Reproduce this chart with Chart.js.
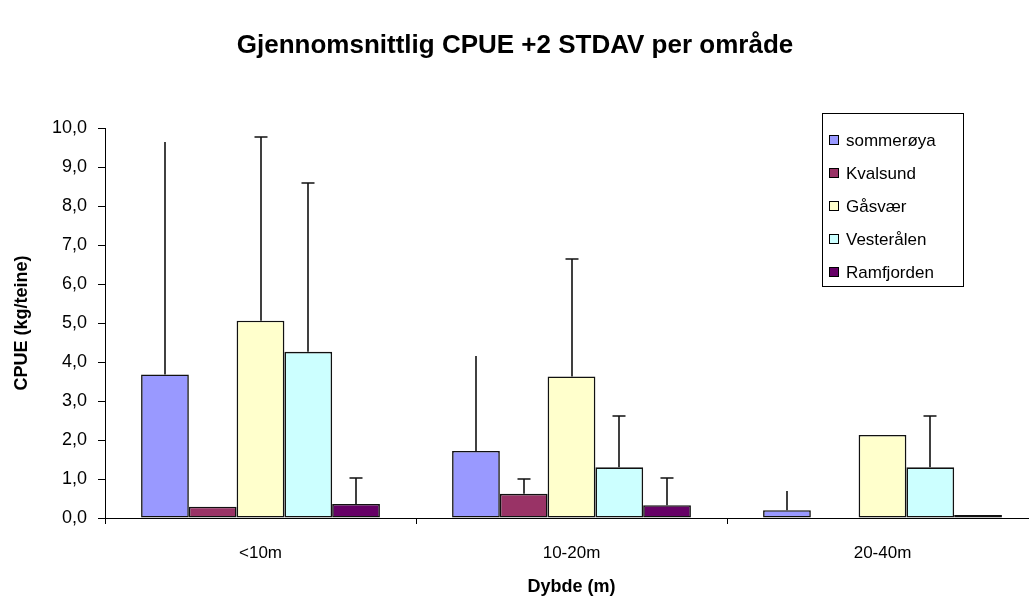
<!DOCTYPE html>
<html>
<head>
<meta charset="utf-8">
<script src="https://cdn.jsdelivr.net/npm/chart.js@4.4.1/dist/chart.umd.min.js"></script>
<style>
html,body{margin:0;padding:0;background:#fff;overflow:hidden}
#wrap{width:1029px;height:601px;overflow:hidden;position:relative}
#wrap canvas{display:block}
</style>
</head>
<body>
<div id="wrap"><canvas id="ch1" width="1045" height="601" style="width:1045px;height:601px"></canvas></div>
<script>
const FONT = "'Liberation Sans', Arial, sans-serif";
const TITLE = 'Gjennomsnittlig CPUE +2 STDAV per område';
const categories = ['<10m', '10-20m', '20-40m'];
const yTicks = [0,1,2,3,4,5,6,7,8,9,10];

// middelverdier (kg/teine)
const sommeroya  = [3.68, 1.72, 0.20];
const kvalsund   = [0.29, 0.62, 0];
const gasvaer    = [5.06, 3.63, 2.13];
const vesteralen = [4.26, 1.30, 1.30];
const ramfjorden = [0.36, 0.33, 0.08];

// +2 STDAV (lengde på feilstrek)
const errSommeroya  = [5.96, 2.43, 0.49];
const errKvalsund   = [0, 0.37, 0];
const errGasvaer    = [4.72, 3.01, 0];
const errVesteralen = [4.32, 1.31, 1.31];
const errRamfjorden = [0.66, 0.70, 0];

const COLORS = {s:'#9999FF', k:'#993366', g:'#FFFFCC', v:'#CCFFFF', r:'#660066'};

const bar = (label, data, err, color, caps) => ({
  label, data, err, caps,
  backgroundColor: color,
  borderColor: '#111',
  borderWidth: 1.6,
  borderSkipped: false,
  categoryPercentage: 0.768,
  barPercentage: 1
});

const ds = [
  bar('sommerøya', sommeroya, errSommeroya, COLORS.s, false),
  bar('Kvalsund', kvalsund, errKvalsund, COLORS.k, true),
  bar('Gåsvær', gasvaer, errGasvaer, COLORS.g, true),
  bar('Vesterålen', vesteralen, errVesteralen, COLORS.v, true),
  bar('Ramfjorden', ramfjorden, errRamfjorden, COLORS.r, true),
];

// feilstreker (kun opp)
const errorBars = {
  id: 'errorBars',
  afterDatasetsDraw(c){
    const ctx = c.ctx, y = c.scales.y;
    ctx.save();
    ctx.strokeStyle = '#111';
    ctx.lineWidth = 1.6;
    c.data.datasets.forEach((d, i) => {
      c.getDatasetMeta(i).data.forEach((el, j) => {
        const e = d.err[j];
        if(!e) return;
        const top = Math.round(y.getPixelForValue(d.data[j] + e));
        const x = Math.round(el.x);
        ctx.beginPath();
        ctx.moveTo(x, el.y);
        ctx.lineTo(x, top);
        if(d.caps){ ctx.moveTo(x - 6.5, top); ctx.lineTo(x + 6.5, top); }
        ctx.stroke();
      });
    });
    ctx.restore();
  }
};

// tittel + legende i Excel-stil
const decor = {
  id: 'decor',
  afterDraw(c){
    const ctx = c.ctx;
    ctx.save();
    ctx.fillStyle = '#000';
    ctx.font = 'bold 26px ' + FONT;
    ctx.textAlign = 'center';
    ctx.textBaseline = 'middle';
    ctx.fillText(TITLE, 515, 46);

    const lx = 822, ly = 113, lw = 141, lh = 173;
    ctx.fillStyle = '#fff';
    ctx.fillRect(lx, ly, lw, lh);
    ctx.strokeStyle = '#000';
    ctx.lineWidth = 1;
    ctx.strokeRect(lx + 0.5, ly + 0.5, lw, lh);
    ctx.font = '17px ' + FONT;
    ctx.textAlign = 'left';
    c.data.datasets.forEach((d, i) => {
      const cy = 140 + i * 33;
      ctx.fillStyle = d.backgroundColor;
      ctx.fillRect(829, cy - 5, 10, 10);
      ctx.strokeRect(829.5, cy - 4.5, 9, 9);
      ctx.fillStyle = '#000';
      ctx.fillText(d.label, 846, cy + 1);
    });
    ctx.restore();
  }
};

new Chart(document.getElementById('ch1'), {
  type: 'bar',
  data: {labels: categories, datasets: ds},
  options: {
    responsive: false,
    animation: false,
    devicePixelRatio: 1,
    layout: {padding: {top: 128, right: 7, left: 0, bottom: 0}},
    plugins: {legend: {display: false}, tooltip: {enabled: false}, title: {display: false}},
    scales: {
      x: {
        grid: {offset: true, drawOnChartArea: false, tickLength: 6, color: '#000'},
        border: {color: '#000', width: 1},
        ticks: {color: '#000', font: {family: FONT, size: 17}, padding: 19, maxRotation: 0},
        title: {display: true, text: 'Dybde (m)', color: '#000', font: {family: FONT, size: 18, weight: 'bold'}, padding: {top: 0, bottom: 3}},
        afterFit: s => { s.height = 83; }
      },
      y: {
        min: 0, max: 10,
        afterBuildTicks: s => { s.ticks = yTicks.map(v => ({value: v})); },
        grid: {drawOnChartArea: false, tickLength: 7, color: '#000'},
        border: {color: '#000', width: 1},
        ticks: {color: '#000', font: {family: FONT, size: 18}, padding: 11, callback: v => v.toFixed(1).replace('.', ',')},
        title: {display: true, text: 'CPUE (kg/teine)', color: '#000', font: {family: FONT, size: 18, weight: 'bold'}, padding: {top: 11, bottom: 0}},
        afterFit: s => { s.width = 105; }
      }
    }
  },
  plugins: [errorBars, decor]
});
</script>
</body>
</html>
